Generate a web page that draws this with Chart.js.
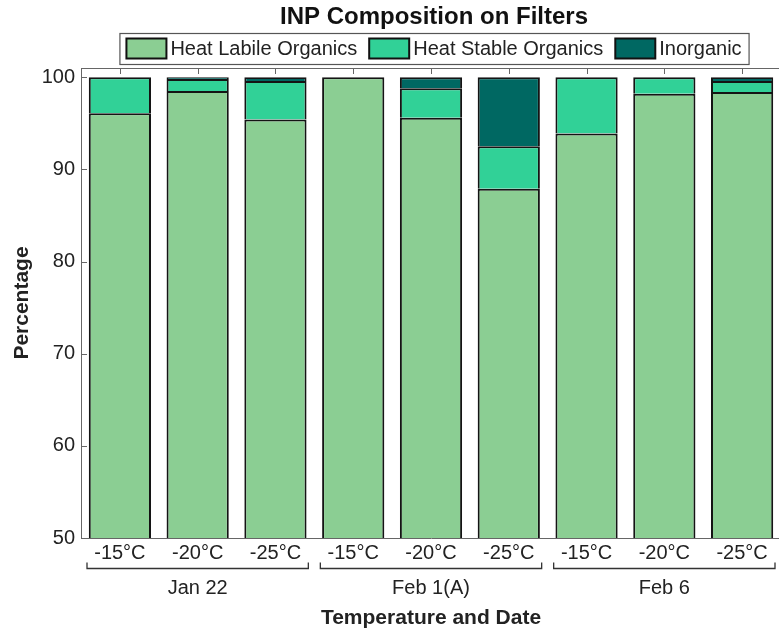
<!DOCTYPE html>
<html><head><meta charset="utf-8">
<script src="https://cdn.jsdelivr.net/npm/chart.js@4.4.1/dist/chart.umd.min.js"></script>
<style>
html,body{margin:0;padding:0;overflow:hidden;background:#fff;width:779px;height:634px}
#wrap{position:absolute;left:0;top:0;width:781px;height:634px}
</style></head>
<body><div id="wrap"><canvas id="c" width="781" height="634"></canvas></div>
<script>
const categories = ['-15°C','-20°C','-25°C','-15°C','-20°C','-25°C','-15°C','-20°C','-25°C'];
const groups = ['Jan 22','Feb 1(A)','Feb 6'];
const groupSize = 3;
const heatLabile = [96.1, 98.5, 95.4, 100, 95.6, 87.9, 93.9, 98.2, 98.4];
const heatStable = [3.9, 1.3, 4.2, 0, 3.2, 4.6, 6.1, 1.8, 1.2];
const inorganic  = [0, 0.2, 0.4, 0, 1.2, 7.5, 0, 0, 0.4];
const seriesNames = ['Heat Labile Organics','Heat Stable Organics','Inorganic'];
const yTicks = [50, 60, 70, 80, 90, 100];
const chartTitle = 'INP Composition on Filters';
const xTitle = 'Temperature and Date';
const yTitle = 'Percentage';

const FONT = 'Liberation Sans, Arial, Helvetica, sans-serif';
const TXT = '#222222';
const AX = '#666666';
const colors = ['#8bce93', '#31d197', '#006862'];

const decor = {
  id: 'decor',
  afterDraw(chart) {
    const ctx = chart.ctx;
    const ca = chart.chartArea;
    const xs = chart.scales.x, ys = chart.scales.y;
    ctx.save();
    // top axis line + ticks
    ctx.strokeStyle = AX; ctx.lineWidth = 1;
    ctx.beginPath();
    ctx.moveTo(ca.left, ca.top + 0.5); ctx.lineTo(ca.right, ca.top + 0.5);
    for (let i = 0; i < categories.length; i++) {
      const x = Math.round(xs.getPixelForValue(i)) + 0.5;
      ctx.moveTo(x, ca.top); ctx.lineTo(x, ca.top + 6);
    }
    yTicks.forEach(v => {
      const y = Math.round(ys.getPixelForValue(v)) + 0.5;
      ctx.moveTo(ca.left, y); ctx.lineTo(ca.left + 6, y);
    });
    ctx.stroke();
    // brackets & group labels
    const half = (xs.getPixelForValue(1) - xs.getPixelForValue(0)) / 2;
    const yLine = ca.bottom + 30.5;
    ctx.strokeStyle = '#333'; ctx.lineWidth = 1.3;
    ctx.fillStyle = TXT;
    ctx.font = '20px ' + FONT;
    ctx.textAlign = 'center'; ctx.textBaseline = 'middle';
    groups.forEach((g, gi) => {
      const i0 = gi * groupSize, i1 = i0 + groupSize - 1;
      const x0 = xs.getPixelForValue(i0) - half + 6;
      const x1 = xs.getPixelForValue(i1) + half - 6;
      ctx.beginPath();
      ctx.moveTo(x0, yLine - 6); ctx.lineTo(x0, yLine); ctx.lineTo(x1, yLine); ctx.lineTo(x1, yLine - 6);
      ctx.stroke();
      ctx.fillText(g, (x0 + x1) / 2, yLine + 20);
    });
    // title
    const cx = (ca.left + ca.right) / 2 + 3;
    ctx.fillStyle = '#111';
    ctx.font = 'bold 24px ' + FONT;
    ctx.fillText(chartTitle, cx, 17);
    // legend
    ctx.font = '20px ' + FONT;
    const sw = 40, sh = 20, gapT = 4, gapI = 12, pad = 7;
    const widths = seriesNames.map(n => ctx.measureText(n).width);
    let total = 0;
    widths.forEach((w, i) => { total += sw + gapT + w + (i < widths.length - 1 ? gapI : 0); });
    const bx = cx - total / 2 - pad, by = 33, bw = total + 2 * pad, bh = 31;
    ctx.fillStyle = '#fff';
    ctx.fillRect(bx, by, bw, bh);
    ctx.strokeStyle = '#555'; ctx.lineWidth = 1.2;
    ctx.strokeRect(bx + 0.5, by + 0.5, bw, bh);
    let x = bx + pad;
    ctx.textAlign = 'left';
    chart.data.datasets.forEach((ds, i) => {
      ctx.fillStyle = ds.backgroundColor;
      ctx.fillRect(x, by + 5.5, sw, sh);
      ctx.strokeStyle = '#111'; ctx.lineWidth = 2;
      ctx.strokeRect(x, by + 5.5, sw, sh);
      ctx.fillStyle = TXT;
      ctx.fillText(ds.label, x + sw + gapT, by + 16);
      x += sw + gapT + widths[i] + gapI;
    });
    ctx.restore();
  }
};

const mk = (label, data, color) => ({
  label, data, backgroundColor: color, borderColor: '#141414', borderWidth: 2,
  borderSkipped: 'start', barPercentage: 0.8, categoryPercentage: 1.0
});

new Chart(document.getElementById('c'), {
  type: 'bar',
  data: {
    labels: categories,
    datasets: [
      mk(seriesNames[0], heatLabile, colors[0]),
      mk(seriesNames[1], heatStable, colors[1]),
      mk(seriesNames[2], inorganic, colors[2])
    ]
  },
  options: {
    responsive: false, animation: false, devicePixelRatio: 1,
    layout: { padding: { top: 68, left: 0, right: 0, bottom: 0 } },
    plugins: { legend: { display: false }, title: { display: false }, tooltip: { enabled: false } },
    scales: {
      x: {
        stacked: true,
        grid: { display: false, drawTicks: false },
        border: { display: true, color: AX, width: 1 },
        ticks: { font: { size: 20, family: FONT }, color: TXT, padding: 3, maxRotation: 0, autoSkip: false },
        title: { display: true, text: xTitle, font: { size: 21, weight: 'bold', family: FONT }, color: TXT, padding: { top: 0, bottom: 3 } },
        afterFit: s => { s.height = 96; }
      },
      y: {
        stacked: true, min: 50, max: 101,
        grid: { display: false, drawTicks: false },
        border: { display: true, color: AX, width: 1 },
        ticks: { stepSize: 10, includeBounds: false, font: { size: 20, family: FONT }, color: TXT, padding: 6 },
        title: { display: true, text: yTitle, font: { size: 21, weight: 'bold', family: FONT }, color: TXT, padding: { top: 10, bottom: 0 } },
        afterFit: s => { s.width = 81; }
      }
    }
  },
  plugins: [decor]
});
</script>
</body></html>
